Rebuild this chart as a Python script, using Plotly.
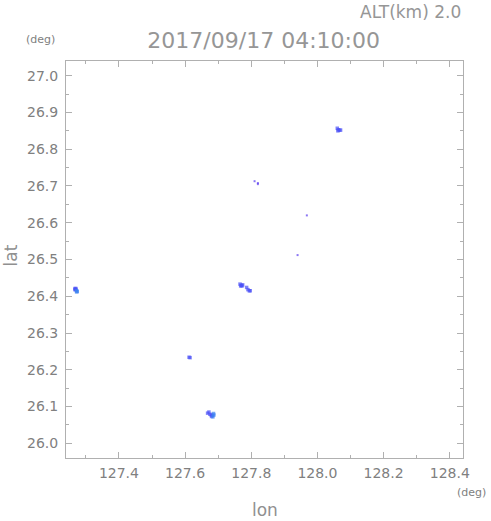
import plotly.graph_objects as go

# Radar echo pixels (lon, lat, intensity class)
lon = [127.267, 127.270, 127.267, 127.270, 127.272, 127.274, 127.272,
       127.766, 127.770, 127.772, 127.768, 127.774, 127.786, 127.790, 127.794, 127.797,
       128.060, 128.063, 128.067, 128.070, 128.062,
       127.668, 127.672, 127.675, 127.679, 127.683, 127.680, 127.686, 127.687, 127.684,
       127.612, 127.615,
       127.810, 127.820, 127.820, 127.968, 127.940]
lat = [26.421, 26.421, 26.418, 26.418, 26.415, 26.413, 26.412,
       26.433, 26.430, 26.428, 26.428, 26.431, 26.424, 26.418, 26.415, 26.415,
       26.857, 26.853, 26.852, 26.852, 26.850,
       26.082, 26.085, 26.079, 26.077, 26.076, 26.073, 26.081, 26.077, 26.072,
       26.234, 26.233,
       26.713, 26.708, 26.705, 26.620, 26.512]
level = [1, 1, 1, 1, 2, 2, 2,
         1, 1, 1, 1, 1, 1, 1, 1, 1,
         1, 1, 1, 1, 1,
         1, 1, 1, 1, 1, 1, 2, 2, 2,
         1, 1,
         0, 0, 0, 0, 0]

title_text = "2017/09/17 04:10:00"
alt_text = "ALT(km) 2.0"

color_map = {0: "#5a3cf0", 1: "#4a50f6", 2: "#3c82f0"}
size_map = {0: 2, 1: 3.5, 2: 3.5}

fig = go.Figure()
fig.add_trace(go.Scatter(
    x=lon, y=lat, mode="markers",
    marker=dict(symbol="square", size=[size_map[v] for v in level],
                color=[color_map[v] for v in level], line=dict(width=0)),
    hoverinfo="skip", showlegend=False))

axis_common = dict(
    showline=True, linecolor="#b0b0b0", linewidth=1, mirror="allticks",
    ticks="inside", ticklen=6, tickcolor="#b0b0b0", tickwidth=1,
    showgrid=False, zeroline=False, automargin=False,
    tickfont=dict(family="DejaVu Sans", size=14, color="#808080"),
)

fig.update_xaxes(range=[127.24, 128.44], dtick=0.2, tick0=127.4, tickformat=".1f",
                 minor=dict(ticks="inside", ticklen=3, dtick=0.1, tickcolor="#b0b0b0"),
                 ticklabelstandoff=2,
                 **axis_common)
fig.update_yaxes(range=[25.96, 27.04], dtick=0.1, tick0=26.0, tickformat=".1f",
                 minor=dict(ticks="inside", ticklen=3, dtick=0.05, tickcolor="#b0b0b0"),
                 ticklabelstandoff=4,
                 **axis_common)

H = 397.0
W = 397.0
fig.update_layout(
    width=491, height=521,
    margin=dict(l=66, r=28, t=61, b=63, autoexpand=False),
    paper_bgcolor="white", plot_bgcolor="white",
    title=dict(text=title_text, x=0.537, xanchor="center", y=1 - 40 / 521, yanchor="middle",
               font=dict(family="DejaVu Sans", size=22, color="#969696")),
    annotations=[
        dict(text=alt_text, xref="paper", yref="paper", x=1.0, y=1 + 49 / H,
             xanchor="right", yanchor="middle", showarrow=False,
             font=dict(family="DejaVu Sans", size=17, color="#969696")),
        dict(text="(deg)", xref="paper", yref="paper", x=-42 / W, y=1 + 21 / H,
             xanchor="left", yanchor="middle", showarrow=False,
             font=dict(family="DejaVu Sans", size=11, color="#808080")),
        dict(text="(deg)", xref="paper", yref="paper", x=1.0 + 25 / W, y=-34 / H,
             xanchor="right", yanchor="middle", showarrow=False,
             font=dict(family="DejaVu Sans", size=11, color="#808080")),
        dict(text="lon", xref="paper", yref="paper", x=0.5, y=-52 / H,
             xanchor="center", yanchor="middle", showarrow=False,
             font=dict(family="DejaVu Sans", size=17, color="#909090")),
        dict(text="lat", xref="paper", yref="paper", x=-56 / W, y=0.5 + 4 / H,
             xanchor="center", yanchor="middle", showarrow=False, textangle=-90,
             font=dict(family="DejaVu Sans", size=17, color="#909090")),
    ],
)

fig.write_html("out.html", config={"displayModeBar": False},
               post_script="document.body.style.margin='0';document.body.style.overflow='hidden';")
